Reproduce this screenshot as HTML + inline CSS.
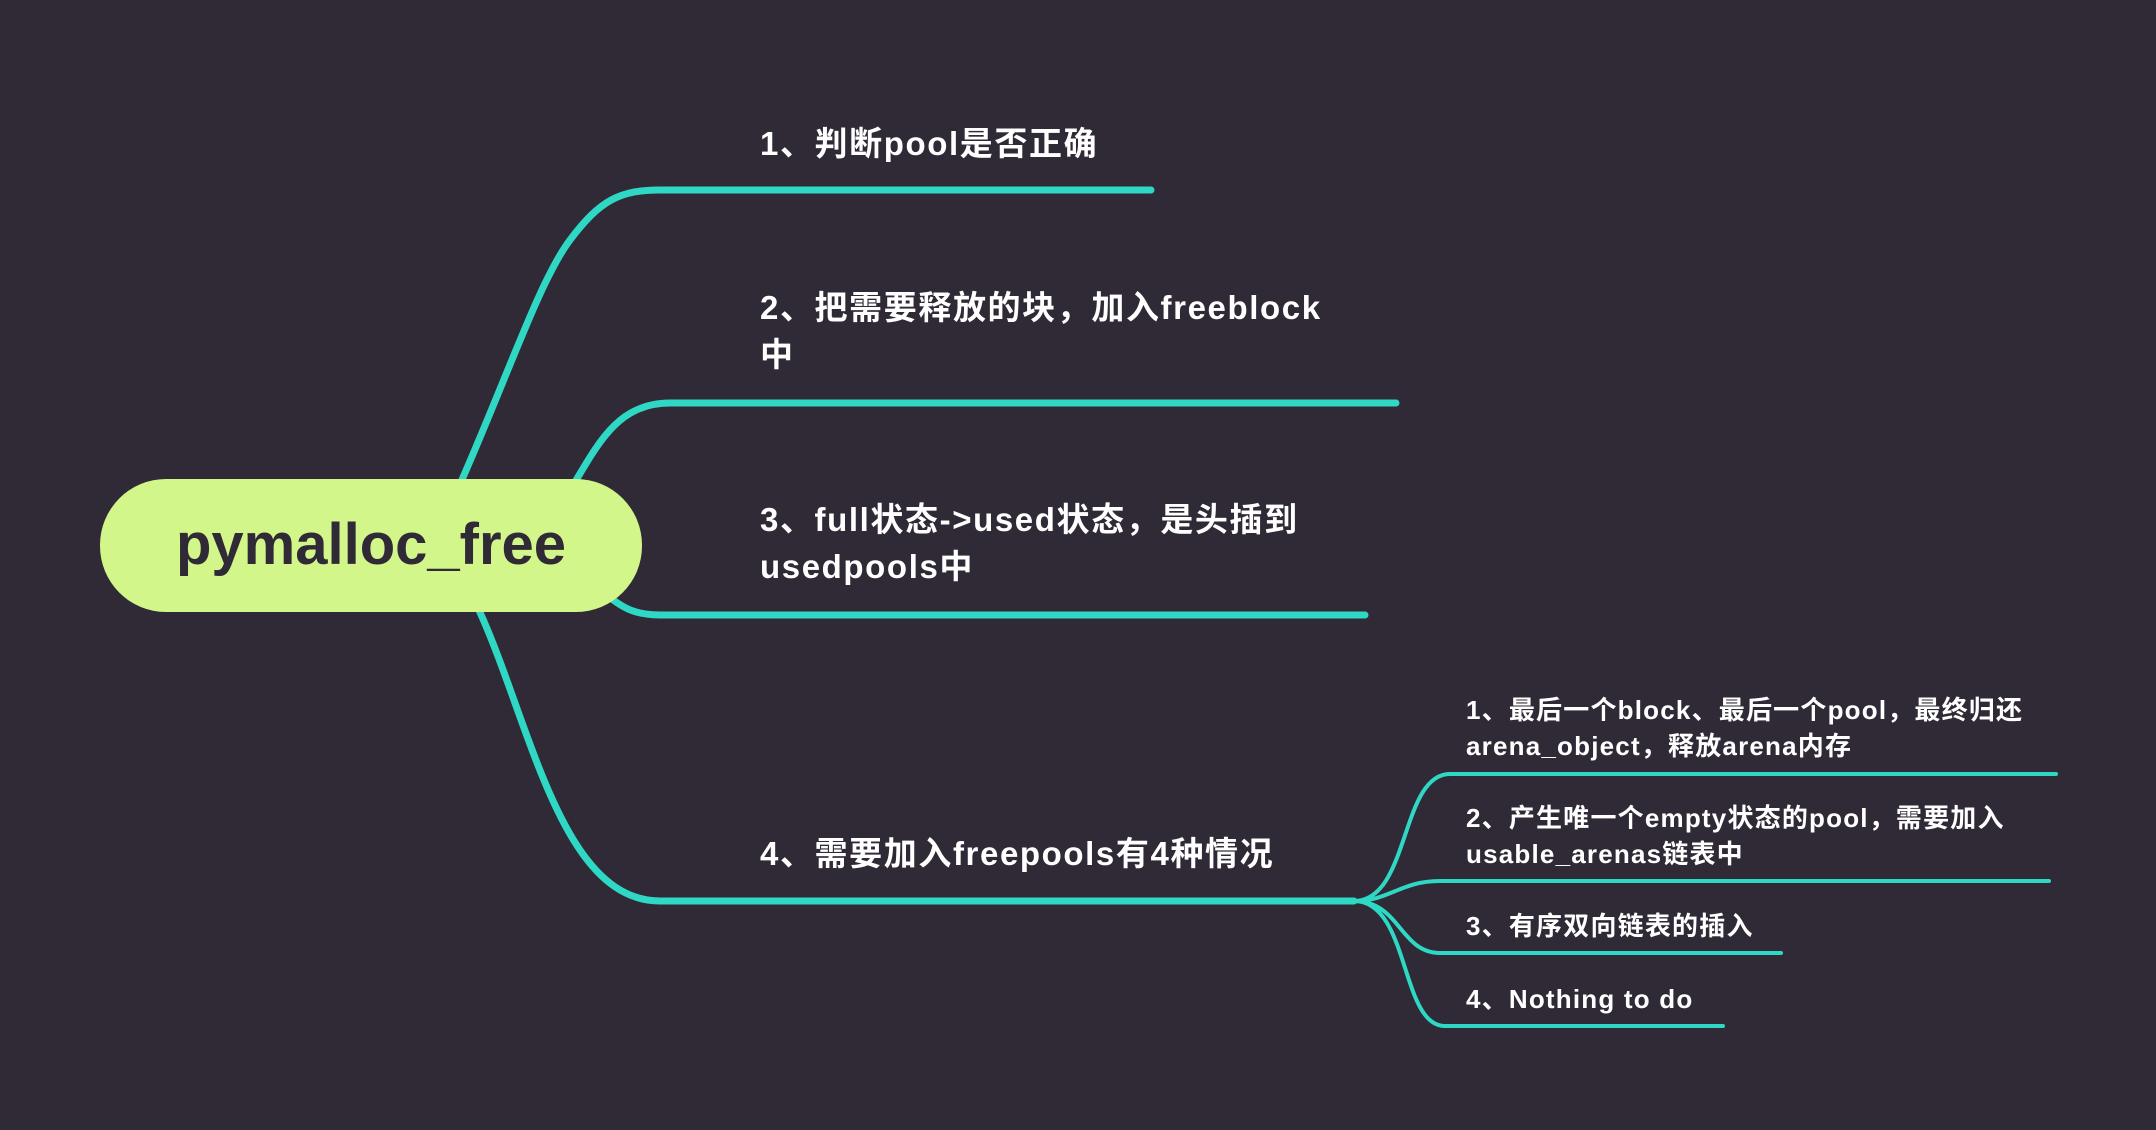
<!DOCTYPE html>
<html><head><meta charset="utf-8"><style>
html,body{margin:0;padding:0;background:#2f2a35;}
svg{display:block}
text{font-family:"Liberation Sans","Noto Sans CJK SC",sans-serif;font-weight:bold;fill:#ffffff;}
</style></head><body>
<svg width="2156" height="1130" viewBox="0 0 2156 1130" xmlns="http://www.w3.org/2000/svg">
<rect width="2156" height="1130" fill="#2f2a35"/>
<g fill="none" stroke="#2fd8c4" stroke-linecap="round">
<path d="M461,482 C510,370 540,280 570,240 C600,200 620,190 660,190 L1151,190" stroke-width="7"/>
<path d="M575,482 C600,440 620,403 670,403 L1396,403" stroke-width="7"/>
<path d="M600,590 C620,605 630,615 660,615 L1365,615" stroke-width="7"/>
<path d="M478,608 C530,720 560,901 660,901 L1354,901" stroke-width="7"/>
<path d="M1354,901 C1410,901 1400,774 1450,774 L2056,774" stroke-width="4"/>
<path d="M1354,901 C1390,901 1400,881 1440,881 L2049,881" stroke-width="4"/>
<path d="M1354,901 C1400,901 1400,953 1440,953 L1781,953" stroke-width="4"/>
<path d="M1354,901 C1410,901 1400,1026 1445,1026 L1723,1026" stroke-width="4"/>
</g>
<rect x="100" y="479" width="542" height="133" rx="66" fill="#d2f68a"/>
<text x="371" y="564" text-anchor="middle" font-size="58" style="fill:#2f2a35">pymalloc_free</text>
<g font-size="33" letter-spacing="1.6">
<text x="760" y="155">1、判断pool是否正确</text>
<text x="760" y="319">2、把需要释放的块，加入freeblock</text>
<text x="760" y="366">中</text>
<text x="760" y="531">3、full状态-&gt;used状态，是头插到</text>
<text x="760" y="578">usedpools中</text>
<text x="760" y="865">4、需要加入freepools有4种情况</text>
</g>
<g font-size="26" letter-spacing="1.2">
<text x="1466" y="719">1、最后一个block、最后一个pool，最终归还</text>
<text x="1466" y="755">arena_object，释放arena内存</text>
<text x="1466" y="827">2、产生唯一个empty状态的pool，需要加入</text>
<text x="1466" y="863">usable_arenas链表中</text>
<text x="1466" y="935">3、有序双向链表的插入</text>
<text x="1466" y="1008">4、Nothing to do</text>
</g>
</svg>
</body></html>
